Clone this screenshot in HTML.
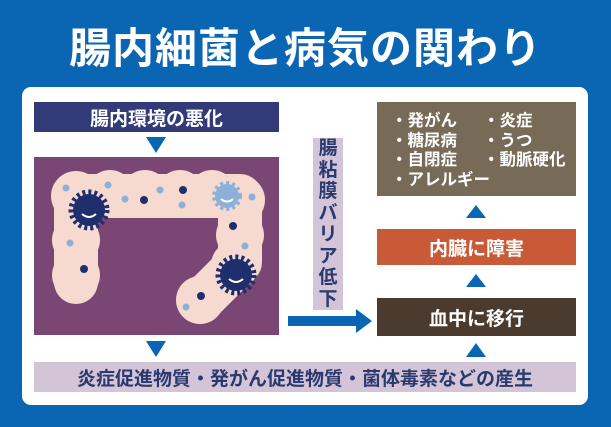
<!DOCTYPE html>
<html><head><meta charset="utf-8"><style>
body{margin:0;width:611px;height:427px;background:#0a65b3;position:relative;overflow:hidden;font-family:"Liberation Sans","Noto Sans CJK JP",sans-serif;font-weight:bold}
.a{position:absolute}
.t{color:#fff;text-align:center;display:flex;align-items:center;justify-content:center}
</style></head><body>
<div class="a t" style="left:0;top:20px;width:611px;height:50px;font-size:42px;letter-spacing:1px">腸内細菌と病気の関わり</div>
<div class="a" style="left:22px;top:87px;width:566px;height:318px;background:#fff;border-radius:9px"></div>
<div class="a t" style="left:34px;top:102px;width:245px;height:30px;background:#323a78;font-size:19px">腸内環境の悪化</div>
<svg class="a" style="left:0;top:0" width="611" height="427">
<polygon points="146,137 166,137 156,153" fill="#0a65b3"/>
<polygon points="146,341 166,341 156,357" fill="#0a65b3"/>
<polygon points="466,218 486,218 476,205" fill="#0a65b3"/>
<polygon points="466,287 486,287 476,274" fill="#0a65b3"/>
<polygon points="466,357 486,357 476,343" fill="#0a65b3"/>
<rect x="288" y="316" width="70" height="10" fill="#0a65b3"/>
<polygon points="356,309 372,321 356,333" fill="#0a65b3"/>
<rect x="34" y="157" width="245" height="178" fill="#7a4674"/>
<path d="M76,282 L76,196 L240,196 L240,262 L200,302" stroke="#f6d9cf" stroke-width="44" stroke-linecap="round" stroke-linejoin="round" fill="none"/>
<g fill="#f6d9cf">
<circle cx="76" cy="196" r="25"/><circle cx="110" cy="194" r="24"/><circle cx="145" cy="194" r="24"/><circle cx="180" cy="194" r="24"/><circle cx="212" cy="194" r="24"/><circle cx="240" cy="200" r="25"/><circle cx="76" cy="240" r="24"/><circle cx="76" cy="275" r="24"/><circle cx="240" cy="235" r="24"/><circle cx="235" cy="265" r="24"/><circle cx="200" cy="300" r="24"/>
</g>
<g fill="#8db0d9">
<circle cx="66" cy="188" r="3.5"/><circle cx="108" cy="185" r="3.5"/><circle cx="125" cy="199" r="3.5"/><circle cx="160" cy="190" r="3.5"/><circle cx="182" cy="205" r="3.5"/><circle cx="252" cy="197" r="3.5"/><circle cx="70" cy="243" r="3.5"/><circle cx="245" cy="246" r="3.5"/><circle cx="186" cy="307" r="3.5"/>
<circle cx="227" cy="196" r="12"/>
</g>
<g fill="#1f2f6e">
<circle cx="144" cy="200" r="4"/><circle cx="183" cy="190" r="4"/><circle cx="233" cy="226" r="4"/><circle cx="84" cy="269" r="4"/><circle cx="201" cy="296" r="4"/>
<circle cx="89" cy="210" r="16"/><circle cx="236" cy="275" r="16"/>
</g>
<g fill="none" stroke="#1f2f6e" stroke-width="5" stroke-dasharray="3 3">
<circle cx="89" cy="210" r="18"/><circle cx="236" cy="275" r="18"/>
</g>
<circle cx="227" cy="196" r="13" fill="none" stroke="#8db0d9" stroke-width="4" stroke-dasharray="3 3"/>
<g stroke="#fff" stroke-width="2" fill="none">
<path d="M82,214 Q89,220 96,214"/><path d="M229,279 Q236,285 243,279"/><path d="M221,199 Q227,204 233,199"/>
</g>
</svg>
<div class="a" style="left:313px;top:138px;width:30px;height:172px;background:#d4c4d7;color:#2b3a6e;font-size:19px;line-height:21.5px;text-align:center;display:flex;align-items:center;justify-content:center"><div style="width:20px">腸<br>粘<br>膜<br>バ<br>リ<br>ア<br>低<br>下</div></div>
<div class="a" style="left:377px;top:102px;width:199px;height:94px;background:#776a57;color:#fff;font-size:16.5px;line-height:19.5px;box-sizing:border-box;padding:10px 0 0 14px">
<div style="display:grid;grid-template-columns:92px auto"><span>・発がん</span><span>・炎症</span><span>・糖尿病</span><span>・うつ</span><span>・自閉症</span><span>・動脈硬化</span><span style="grid-column:1/3">・アレルギー</span></div></div>
<div class="a t" style="left:377px;top:229px;width:199px;height:36px;background:#c85a38;font-size:19px">内臓に障害</div>
<div class="a t" style="left:377px;top:298px;width:199px;height:38px;background:#4b3b2e;font-size:19px">血中に移行</div>
<div class="a t" style="left:34px;top:362px;width:542px;height:30px;background:#d4c4d7;color:#2b3a6e;font-size:19px">炎症促進物質・発がん促進物質・菌体毒素などの産生</div>
</body></html>
